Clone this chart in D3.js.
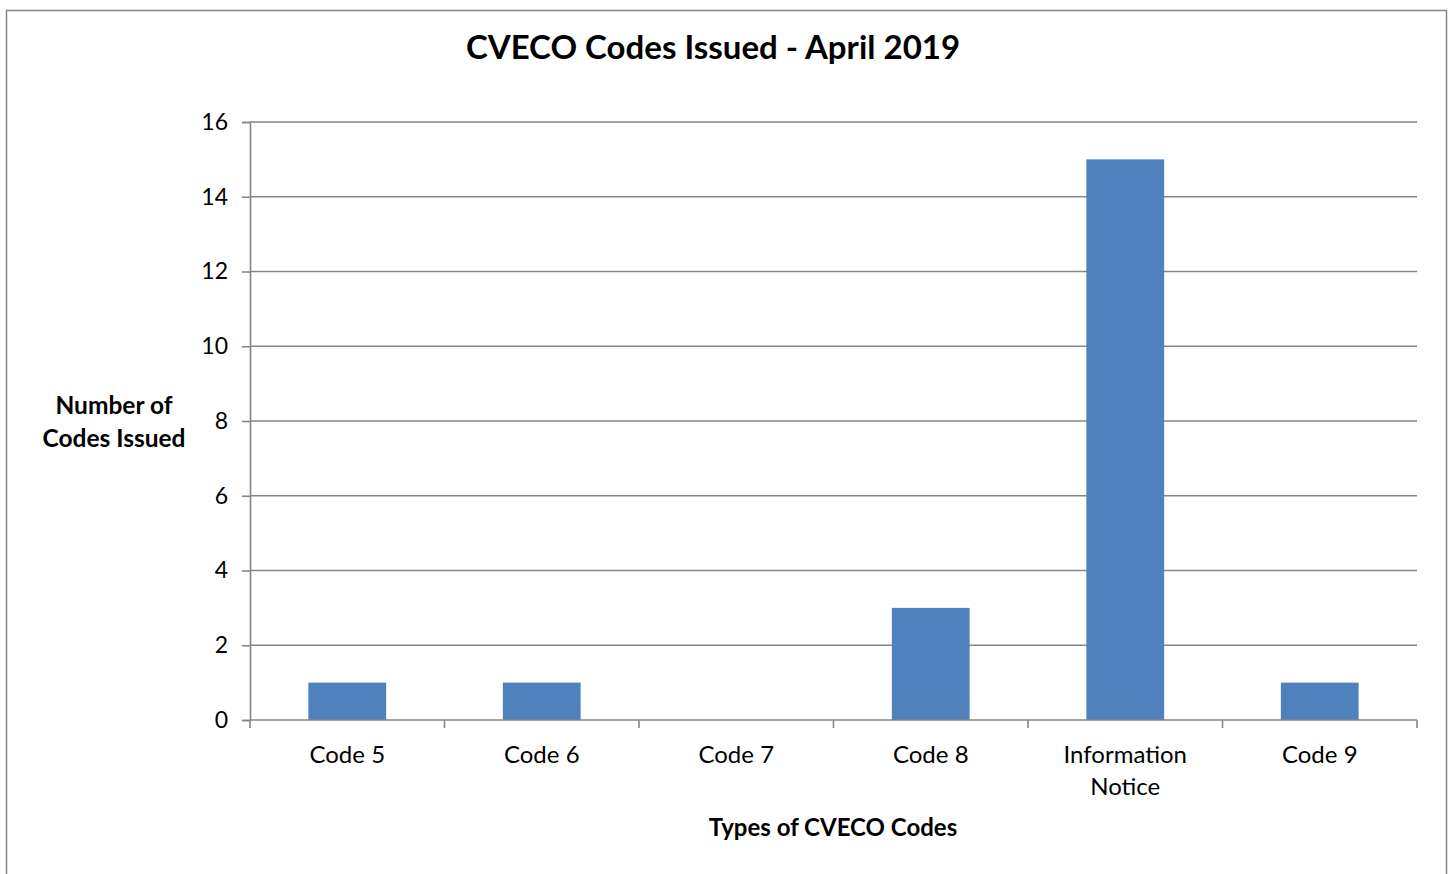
<!DOCTYPE html>
<html>
<head>
<meta charset="utf-8">
<script src="https://cdn.jsdelivr.net/npm/d3@7"></script>
<style>
  body { margin: 0; background: #fff; }
  text { font-family: Lato, "Open Sans", sans-serif; fill: #000; }
</style>
</head>
<body>
<div id="chart"></div>
<script>
// Chart data
var categories = ['Code 5', 'Code 6', 'Code 7', 'Code 8', 'Information Notice', 'Code 9'];
var counts = [1, 1, 0, 3, 15, 1];
var yTicks = [0, 2, 4, 6, 8, 10, 12, 14, 16];

var data = categories.map(function(c, i) { return { name: c, value: counts[i] }; });

var margin = { top: 122, left: 250 },
    width = 1167,
    height = 598;

var svg = d3.select('#chart')
    .append('svg')
    .attr('width', 1452)
    .attr('height', 874);

// outer frame
svg.append('rect')
    .attr('x', 6.5).attr('y', 10.5)
    .attr('width', 1440).attr('height', 900)
    .attr('fill', 'none')
    .attr('stroke', '#888')
    .attr('stroke-width', 1.5);

var g = svg.append('g')
    .attr('transform', 'translate(' + margin.left + ',' + margin.top + ')');

var x = d3.scaleBand()
    .domain(categories)
    .range([0, width])
    .paddingInner(0.6)
    .paddingOuter(0.3);

var y = d3.scaleLinear()
    .domain([0, 16])
    .range([height, 0]);

// gridlines
g.selectAll('.grid')
    .data(yTicks.slice(1))
    .enter().append('line')
    .attr('x1', 0).attr('x2', width)
    .attr('y1', function(d) { return y(d); })
    .attr('y2', function(d) { return y(d); })
    .attr('stroke', '#868686')
    .attr('stroke-width', 1.6);

// bars
g.selectAll('.bar')
    .data(data)
    .enter().append('rect')
    .attr('x', function(d) { return x(d.name); })
    .attr('y', function(d) { return y(d.value); })
    .attr('width', x.bandwidth())
    .attr('height', function(d) { return height - y(d.value); })
    .attr('fill', '#4f81bd');

// y axis
var yAxis = g.append('g')
    .call(d3.axisLeft(y).tickValues(yTicks).tickSize(8).tickPadding(14));
yAxis.selectAll('path, line').attr('stroke', '#868686').attr('stroke-width', 1.6);
yAxis.selectAll('text').attr('font-size', 23).style('font-family', 'Lato, sans-serif');

// x axis: ticks at category boundaries
var step = x.step();
var xa = g.append('g').attr('transform', 'translate(0,' + height + ')');
xa.append('line')
    .attr('x1', 0).attr('x2', width)
    .attr('stroke', '#868686').attr('stroke-width', 1.6);
xa.selectAll('.tick')
    .data(d3.range(categories.length + 1))
    .enter().append('line')
    .attr('x1', function(i) { return i * step; })
    .attr('x2', function(i) { return i * step; })
    .attr('y1', 0).attr('y2', 8)
    .attr('stroke', '#868686').attr('stroke-width', 1.6);

xa.selectAll('.lbl')
    .data(categories)
    .enter().append('text')
    .attr('text-anchor', 'middle')
    .attr('font-size', 24)
    .attr('transform', function(d) { return 'translate(' + (x(d) + x.bandwidth() / 2) + ',43)'; })
    .each(function(d) {
        var words = d === 'Information Notice' ? ['Information', 'Notice'] : [d];
        var t = d3.select(this);
        words.forEach(function(w, i) {
            t.append('tspan').attr('x', 0).attr('dy', i === 0 ? 0 : 32).text(w);
        });
    });

// titles
svg.append('text')
    .attr('x', 713).attr('y', 59)
    .attr('text-anchor', 'middle')
    .attr('font-size', 33)
    .attr('font-weight', 'bold')
    .text('CVECO Codes Issued - April 2019');

svg.append('text')
    .attr('x', 833).attr('y', 836)
    .attr('text-anchor', 'middle')
    .attr('font-size', 24)
    .attr('font-weight', 'bold')
    .text('Types of CVECO Codes');

var yt = svg.append('text')
    .attr('text-anchor', 'middle')
    .attr('font-size', 24.5)
    .attr('font-weight', 'bold');
yt.append('tspan').attr('x', 114).attr('y', 414).text('Number of');
yt.append('tspan').attr('x', 114).attr('y', 447).text('Codes Issued');
</script>
</body>
</html>
